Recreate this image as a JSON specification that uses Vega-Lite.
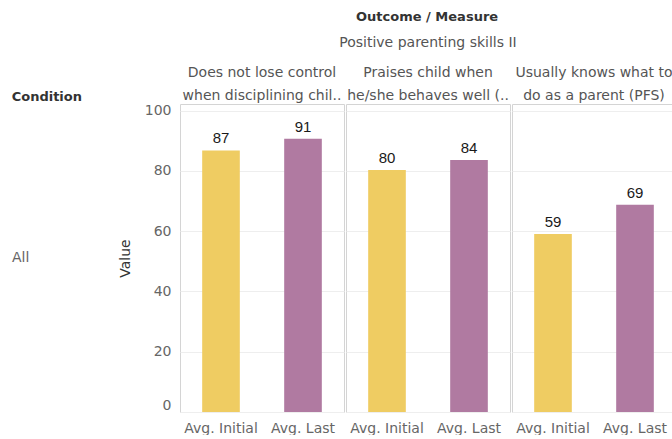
{
  "$schema": "https://vega.github.io/schema/vega-lite/v6.json",
  "padding": {"left": 11, "top": 11, "right": 0, "bottom": 0},
  "title": {"text": "Outcome / Measure", "fontSize": 13, "fontWeight": "bold", "color": "#333333", "font": "DejaVu Sans", "anchor": "middle", "dx": 83, "offset": 12},
  "data": {"values": [
    {"Condition": "All", "Measure": "Does not lose control when disciplining child (PFS)", "Type": "Avg. Initial", "Value": 86.8},
    {"Condition": "All", "Measure": "Does not lose control when disciplining child (PFS)", "Type": "Avg. Last", "Value": 90.7},
    {"Condition": "All", "Measure": "Praises child when he/she behaves well (PFS)", "Type": "Avg. Initial", "Value": 80.3},
    {"Condition": "All", "Measure": "Praises child when he/she behaves well (PFS)", "Type": "Avg. Last", "Value": 83.6},
    {"Condition": "All", "Measure": "Usually knows what to do as a parent (PFS)", "Type": "Avg. Initial", "Value": 59.1},
    {"Condition": "All", "Measure": "Usually knows what to do as a parent (PFS)", "Type": "Avg. Last", "Value": 68.8}
  ]},
  "spacing": 0,
  "facet": {
    "row": {
      "field": "Condition", "type": "nominal", "title": "Condition",
      "header": {
        "labelAngle": 0, "labelAlign": "left", "labelOrient": "left", "labelColor": "#666666", "labelFontSize": 14, "labelFont": "DejaVu Sans", "labelPadding": 89,
        "titleOrient": "left", "titleAngle": 0, "titleAnchor": "end", "titleBaseline": "bottom", "titleAlign": "left", "titlePadding": -81,
        "titleFontSize": 13, "titleFontWeight": "bold", "titleColor": "#333333", "titleFont": "DejaVu Sans"
      }
    },
    "column": {
      "field": "Measure", "type": "nominal",
      "sort": ["Does not lose control when disciplining child (PFS)", "Praises child when he/she behaves well (PFS)", "Usually knows what to do as a parent (PFS)"],
      "title": "Positive parenting skills II",
      "header": {
        "labelExpr": "datum.value == 'Does not lose control when disciplining child (PFS)' ? ['Does not lose control', 'when disciplining chil..'] : datum.value == 'Praises child when he/she behaves well (PFS)' ? ['Praises child when', 'he/she behaves well (..'] : ['Usually knows what to', 'do as a parent (PFS)']",
        "labelColor": "#555555", "labelFontSize": 14, "labelFont": "DejaVu Sans", "labelLineHeight": 23, "labelPadding": 0,
        "titleFontSize": 14, "titleFontWeight": "normal", "titleColor": "#555555", "titleFont": "DejaVu Sans", "titlePadding": 6
      }
    }
  },
  "spec": {
    "width": 164,
    "height": 308,
    "encoding": {
      "x": {"field": "Type", "type": "nominal", "sort": ["Avg. Initial", "Avg. Last"],
        "axis": {"title": null, "labelAngle": 0, "domain": false, "ticks": false, "labelPadding": 8, "labelFontSize": 14, "labelColor": "#666666", "labelFont": "DejaVu Sans"}},
      "y": {"field": "Value", "type": "quantitative", "scale": {"domain": [0, 102.2], "nice": false},
        "axis": {"title": "Value", "values": [0, 20, 40, 60, 80, 100], "domain": false, "ticks": false, "labelPadding": 8, "labelFlush": true,
          "labelFontSize": 14, "labelColor": "#666666", "labelFont": "DejaVu Sans", "titleFontSize": 14, "titleFontWeight": "normal", "titleColor": "#333333", "titleFont": "DejaVu Sans", "titlePadding": 12,
          "gridColor": "#eeeeee"}}
    },
    "layer": [
      {"mark": {"type": "bar", "width": {"band": 0.51}},
        "encoding": {"color": {"field": "Type", "type": "nominal", "scale": {"domain": ["Avg. Initial", "Avg. Last"], "range": ["#EFCC62", "#B07AA1"]}, "legend": null}}},
      {"mark": {"type": "text", "baseline": "alphabetic", "dy": -7, "fontSize": 15, "color": "#1a1a1a", "font": "Liberation Sans"},
        "encoding": {"text": {"field": "Value", "type": "quantitative", "format": ".0f"}}}
    ]
  },
  "config": {"view": {"stroke": "#d4d4d4"}}
}
